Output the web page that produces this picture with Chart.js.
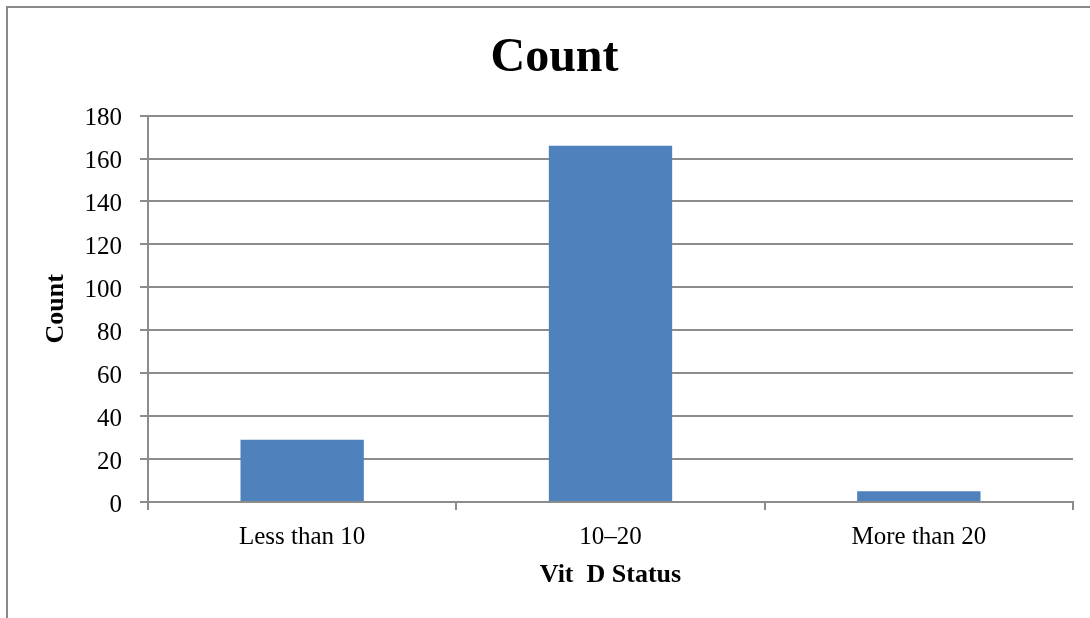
<!DOCTYPE html>
<html>
<head>
<meta charset="utf-8">
<script src="https://cdn.jsdelivr.net/npm/chart.js@4/dist/chart.umd.min.js"></script>
<style>
  html, body { margin: 0; padding: 0; background: #ffffff; }
  #wrap { position: relative; width: 1090px; height: 618px; }
</style>
</head>
<body>
<div id="wrap"><canvas id="c" width="1090" height="618"></canvas></div>
<script>
// Vitamin D status groups and their counts
const categories = ['Less than 10', '10\u201320', 'More than 20'];
const counts = [29, 166, 5];
const yTicks = { min: 0, max: 180, step: 20 };

const gridGray = '#8c8c8c';
const barBlue = '#4F81BD';
const serif = 'Liberation Serif';

// Thin frame along the top and left edges of the chart
const framePlugin = {
  id: 'frame',
  beforeDraw(chart) {
    const ctx = chart.ctx;
    ctx.save();
    ctx.fillStyle = '#ffffff';
    ctx.fillRect(0, 0, chart.width, chart.height);
    ctx.strokeStyle = '#8a8a8a';
    ctx.lineWidth = 2;
    ctx.beginPath();
    ctx.moveTo(7, chart.height);
    ctx.lineTo(7, 7);
    ctx.lineTo(chart.width, 7);
    ctx.stroke();
    ctx.restore();
  }
};

new Chart(document.getElementById('c'), {
  type: 'bar',
  data: {
    labels: categories,
    datasets: [{
      label: 'Count',
      data: counts,
      backgroundColor: barBlue,
      borderWidth: 0,
      barPercentage: 0.4,
      categoryPercentage: 1.0
    }]
  },
  options: {
    responsive: false,
    animation: false,
    layout: { padding: { left: 36, right: 17, top: 10, bottom: 20 } },
    plugins: {
      legend: { display: false },
      tooltip: { enabled: false },
      title: {
        display: true,
        text: 'Count',
        color: '#000000',
        font: { family: serif, size: 48, weight: 'bold', lineHeight: 1.2 },
        padding: { top: 20, bottom: 28 }
      }
    },
    scales: {
      x: {
        grid: {
          display: true,
          drawOnChartArea: false,
          drawTicks: true,
          tickLength: 8,
          color: gridGray,
          lineWidth: 2,
          offset: true
        },
        border: { display: true, color: gridGray, width: 2 },
        ticks: {
          color: '#000000',
          padding: 12,
          font: { family: serif, size: 25 }
        },
        title: {
          display: true,
          text: 'Vit  D Status',
          color: '#000000',
          font: { family: serif, size: 26, weight: 'bold', lineHeight: 1.2 },
          padding: { top: 0, bottom: 7 }
        },
        afterFit(scale) { scale.height = 96; }
      },
      y: {
        min: yTicks.min,
        max: yTicks.max,
        grid: {
          color: gridGray,
          lineWidth: 2,
          drawTicks: true,
          tickLength: 8
        },
        border: { display: true, color: gridGray, width: 2 },
        ticks: {
          stepSize: yTicks.step,
          color: '#000000',
          padding: 18,
          labelOffset: 3,
          font: { family: serif, size: 25 }
        },
        title: {
          display: true,
          text: 'Count',
          color: '#000000',
          font: { family: serif, size: 26, weight: 'bold', lineHeight: 1.2 },
          padding: { top: 5, bottom: 0 }
        },
        afterFit(scale) { scale.width = 112; }
      }
    }
  },
  plugins: [framePlugin]
});
</script>
</body>
</html>
